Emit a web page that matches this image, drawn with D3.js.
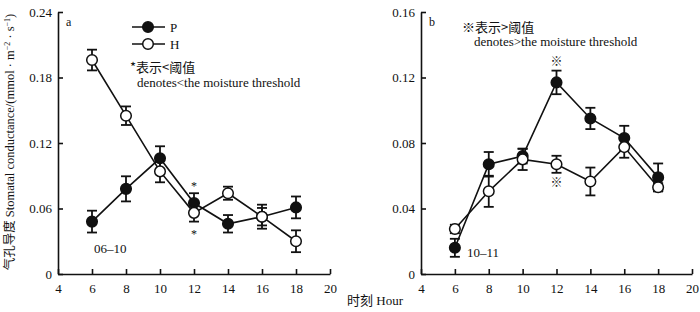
<!DOCTYPE html>
<html><head><meta charset="utf-8">
<script src="https://cdn.jsdelivr.net/npm/d3@7"></script>
<style>
body{margin:0;background:#fff;}
svg{display:block;}
text{font-family:"Liberation Serif","Times New Roman","Noto Serif CJK SC","Noto Sans CJK SC",serif;fill:#111;}
</style></head>
<body>
<svg id="c" width="700" height="312"></svg>
<script>
const hours = [6, 8, 10, 12, 14, 16, 18];
const aP    = [0.048, 0.078, 0.106, 0.065, 0.046, 0.0525, 0.061];
const aPerr = [0.010, 0.0115, 0.011, 0.009, 0.008, 0.011, 0.010];
const aH    = [0.196, 0.145, 0.094, 0.056, 0.074, 0.0525, 0.030];
const aHerr = [0.0095, 0.0085, 0.010, 0.008, 0.006, 0.008, 0.010];
const bP    = [0.016, 0.067, 0.072, 0.117, 0.095, 0.083, 0.059];
const bPerr = [0.0055, 0.0075, 0.0045, 0.0072, 0.0065, 0.0075, 0.0085];
const bH    = [0.0275, 0.0505, 0.070, 0.067, 0.0565, 0.0775, 0.053];
const bHerr = [0.0026, 0.0095, 0.0065, 0.0052, 0.0085, 0.0065, 0.0025];
const xTicks = [4, 6, 8, 10, 12, 14, 16, 18, 20];
const aYTicks = [0, 0.06, 0.12, 0.18, 0.24];
const bYTicks = [0, 0.04, 0.08, 0.12, 0.16];

const svg = d3.select("#c");
const fmt = d => d === 0 ? "0" : d3.format(".2f")(d);
const CJK = "'Noto Sans CJK SC',sans-serif";

function panel(opt) {
  const x = d3.scaleLinear().domain([4, 20]).range(opt.xr);
  const y = d3.scaleLinear().domain([0, opt.ymax]).range([274, 12]);
  const g = svg.append("g");
  const xa = g.append("g").attr("transform", `translate(0,${y(0)})`)
    .call(d3.axisBottom(x).tickValues(xTicks).tickSize(-5).tickSizeOuter(0).tickPadding(10));
  const ya = g.append("g").attr("transform", `translate(${x(4)},0)`)
    .call(d3.axisLeft(y).tickValues(opt.yTicks).tickFormat(fmt).tickSize(-5).tickSizeOuter(0).tickPadding(6));
  [xa, ya].forEach(a => {
    a.selectAll("path.domain").attr("stroke", "#111").attr("stroke-width", 1.6);
    a.selectAll(".tick line").attr("stroke", "#111").attr("stroke-width", 1.6);
    a.selectAll(".tick text").style("font-size", "13px").attr("fill", "#111");
  });
  ya.selectAll(".tick text").attr("dy", "0.32em");

  const line = d3.line().x((d, i) => x(hours[i])).y(d => y(d));
  const series = [
    {v: opt.P, e: opt.Perr, fill: "#111"},
    {v: opt.H, e: opt.Herr, fill: "#fff"}
  ];
  series.forEach(s => {
    g.append("path").attr("d", line(s.v)).attr("fill", "none")
      .attr("stroke", "#111").attr("stroke-width", 1.6);
  });
  series.forEach(s => {
    const eg = g.append("g").attr("stroke", "#111").attr("stroke-width", 1.8);
    s.v.forEach((v, i) => {
      const cx = x(hours[i]);
      eg.append("line").attr("x1", cx).attr("x2", cx).attr("y1", y(v - s.e[i])).attr("y2", y(v + s.e[i]));
      [v - s.e[i], v + s.e[i]].forEach(t => {
        eg.append("line").attr("x1", cx - 5).attr("x2", cx + 5).attr("y1", y(t)).attr("y2", y(t));
      });
    });
  });
  series.forEach(s => {
    g.append("g").selectAll("circle").data(s.v).join("circle")
      .attr("cx", (d, i) => x(hours[i])).attr("cy", d => y(d)).attr("r", 5.3)
      .attr("fill", s.fill).attr("stroke", "#111").attr("stroke-width", 1.5);
  });
  g.append("text").attr("x", x(4) + 8).attr("y", 26).style("font-size", "12px").text(opt.letter);
  return {g, x, y};
}

const A = panel({xr: [58, 330], ymax: 0.24, yTicks: aYTicks, P: aP, Perr: aPerr, H: aH, Herr: aHerr, letter: "a"});
const B = panel({xr: [421, 692], ymax: 0.16, yTicks: bYTicks, P: bP, Perr: bPerr, H: bH, Herr: bHerr, letter: "b"});

// legend (panel a)
const lg = A.g.append("g");
[["P", "#111", 27], ["H", "#fff", 44]].forEach(([t, f, ly]) => {
  lg.append("line").attr("x1", 132).attr("x2", 165).attr("y1", ly).attr("y2", ly)
    .attr("stroke", "#111").attr("stroke-width", 1.6);
  lg.append("circle").attr("cx", 148).attr("cy", ly).attr("r", 5.3).attr("fill", f)
    .attr("stroke", "#111").attr("stroke-width", 1.5);
  lg.append("text").attr("x", 170).attr("y", ly + 4.5).style("font-size", "13px").text(t);
});

// annotations panel a
A.g.append("text").attr("x", 130).attr("y", 72).style("font-size", "13px")
  .style("font-family", CJK).text("*表示<阈值");
A.g.append("text").attr("x", 137).attr("y", 87).style("font-size", "13px").text("denotes<the moisture threshold");
A.g.append("text").attr("x", A.x(12)).attr("y", A.y(0.065) - 13).attr("text-anchor", "middle")
  .style("font-size", "12px").attr("fill", "#444").text("*");
A.g.append("text").attr("x", A.x(12)).attr("y", A.y(0.056) + 25).attr("text-anchor", "middle")
  .style("font-size", "12px").attr("fill", "#444").text("*");
A.g.append("text").attr("x", 94).attr("y", 253).style("font-size", "13px").text("06–10");

// annotations panel b
B.g.append("text").attr("x", 462).attr("y", 32).style("font-size", "13px")
  .style("font-family", CJK).text("※表示>阈值");
B.g.append("text").attr("x", 474).attr("y", 46).style("font-size", "13px").text("denotes>the moisture threshold");
B.g.append("text").attr("x", B.x(12)).attr("y", B.y(0.117) - 16).attr("text-anchor", "middle")
  .style("font-size", "12px").style("font-family", CJK).attr("fill", "#555").text("※");
B.g.append("text").attr("x", B.x(12)).attr("y", B.y(0.067) + 23).attr("text-anchor", "middle")
  .style("font-size", "12px").style("font-family", CJK).attr("fill", "#555").text("※");
B.g.append("text").attr("x", 467).attr("y", 257).style("font-size", "13px").text("10–11");

// axis titles
svg.append("text").attr("x", 375).attr("y", 305).attr("text-anchor", "middle").style("font-size", "13px")
  .html('<tspan style="font-family:\'Noto Sans CJK SC\',sans-serif">时刻</tspan> Hour');
const yl = svg.append("text").attr("transform", "translate(14,142) rotate(-90)").attr("text-anchor", "middle")
  .style("font-size", "12.5px");
yl.append("tspan").style("font-family", CJK).text("气孔导度");
yl.append("tspan").text(" Stomatal conductance/(mmol · m");
yl.append("tspan").attr("dy", -4).style("font-size", "8px").text("−2");
yl.append("tspan").attr("dy", 4).text(" · s");
yl.append("tspan").attr("dy", -4).style("font-size", "8px").text("−1");
yl.append("tspan").attr("dy", 4).text(")");
</script>
</body></html>
